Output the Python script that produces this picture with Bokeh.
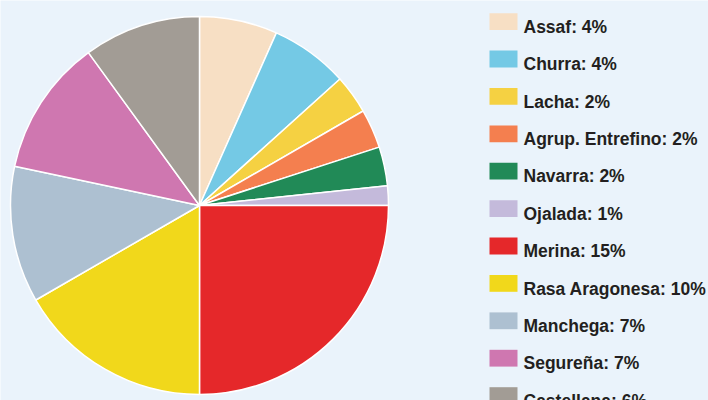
import math
from bokeh.plotting import figure
from bokeh.models import Range1d, ColumnDataSource
from bokeh.core.properties import value
from bokeh.embed import file_html
from bokeh.resources import INLINE

breeds = ["Assaf", "Churra", "Lacha", "Agrup. Entrefino", "Navarra", "Ojalada",
          "Merina", "Rasa Aragonesa", "Manchega", "Segureña", "Castellana"]
percents = [4, 4, 2, 2, 2, 1, 15, 10, 7, 7, 6]
colors = ["#f7dfc4", "#74c9e5", "#f5d142", "#f47f4f", "#218a57", "#c4badb",
          "#e5282a", "#f1d81b", "#adc0d1", "#cf77b0", "#a29c95"]

BG = "#eaf3fb"
W, H = 708, 400

p = figure(width=W, height=H, output_backend="svg", toolbar_location=None,
           x_range=Range1d(0, W), y_range=Range1d(0, H), min_border=0)
p.axis.visible = False
p.grid.visible = False
p.outline_line_color = None
p.background_fill_color = BG
p.border_fill_color = BG

# pie (clockwise from 12 o'clock)
total = sum(percents)
cx, cy, r = 199, H - 205, 189
starts, ends = [], []
cum = 0.0
for v in percents:
    a0 = cum / total * 2 * math.pi
    cum += v
    a1 = cum / total * 2 * math.pi
    starts.append(math.pi / 2 - a1)
    ends.append(math.pi / 2 - a0)
src = ColumnDataSource(dict(start=starts, end=ends, color=colors))
p.wedge(x=cx, y=cy, radius=r, start_angle="start", end_angle="end",
        fill_color="color", line_color="white", line_width=1.5, source=src)

# legend
row_top = [12.7 + 37.4 * i for i in range(len(breeds))]
sw_x = [489 + 14] * len(breeds)
sw_y = [H - (t + 8.4) for t in row_top]
p.rect(x=sw_x, y=sw_y, width=28, height=16.8, fill_color=colors, line_color=None)
labels = [f"{b}: {v}%" for b, v in zip(breeds, percents)]
p.text(x=[523] * len(breeds), y=[H - (t + 13.5) for t in row_top], text=labels,
       text_font=value("Liberation Sans"), text_font_style="bold",
       text_font_size="17.5px", text_baseline="alphabetic", text_color="#231f20")

open("out.html", "w").write(file_html(p, INLINE))
